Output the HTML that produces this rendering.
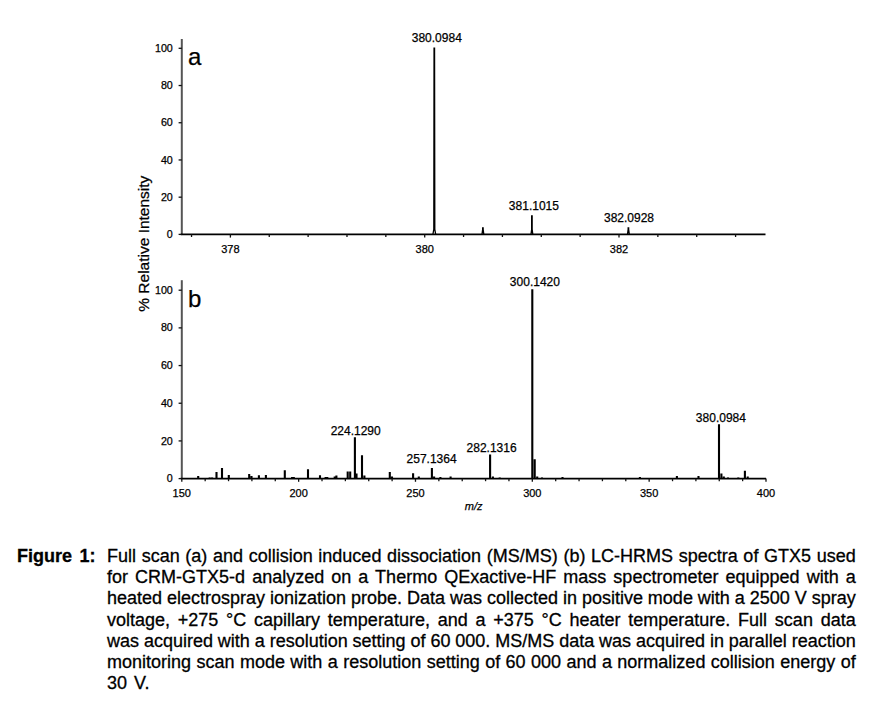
<!DOCTYPE html>
<html><head><meta charset="utf-8">
<style>
html,body{margin:0;padding:0;background:#fff;}
body{width:881px;height:709px;position:relative;overflow:hidden;font-family:"Liberation Sans", sans-serif;color:#000;}
svg{position:absolute;left:0;top:0;}
svg text{font-family:"Liberation Sans", sans-serif;fill:#000;stroke:#000;stroke-width:0.25px;}
.fig{position:absolute;left:17.0px;top:546.2px;font-size:18px;font-weight:bold;line-height:21.12px;word-spacing:2.5px;-webkit-text-stroke:0.3px #000;}
.ln{position:absolute;left:107.0px;font-size:18px;line-height:21.12px;white-space:nowrap;-webkit-text-stroke:0.3px #000;}
.ln.last{text-align:left;text-align-last:left;}
</style></head><body>
<svg width="881" height="709" viewBox="0 0 881 709">
<path d="M181.8 39 V234.4" fill="none" stroke="#555" stroke-width="2"/>
<path d="M180.8 234.4 H765.5" fill="none" stroke="#000" stroke-width="1.7"/>
<path d="M178.6 234.4 H181.8" stroke="#111" stroke-width="1.3"/>
<text x="172.8" y="238" text-anchor="end" font-size="10.7">0</text>
<path d="M178.6 197.18 H181.8" stroke="#111" stroke-width="1.3"/>
<text x="172.8" y="200.78" text-anchor="end" font-size="10.7">20</text>
<path d="M178.6 159.96 H181.8" stroke="#111" stroke-width="1.3"/>
<text x="172.8" y="163.56" text-anchor="end" font-size="10.7">40</text>
<path d="M178.6 122.74 H181.8" stroke="#111" stroke-width="1.3"/>
<text x="172.8" y="126.34" text-anchor="end" font-size="10.7">60</text>
<path d="M178.6 85.52 H181.8" stroke="#111" stroke-width="1.3"/>
<text x="172.8" y="89.12" text-anchor="end" font-size="10.7">80</text>
<path d="M178.6 48.3 H181.8" stroke="#111" stroke-width="1.3"/>
<text x="172.8" y="51.9" text-anchor="end" font-size="10.7">100</text>
<path d="M191.54 234.4 V237" stroke="#111" stroke-width="1.3"/>
<path d="M230.4 234.4 V237.6" stroke="#111" stroke-width="1.3"/>
<text x="230.4" y="252.8" text-anchor="middle" font-size="11">378</text>
<path d="M269.26 234.4 V237" stroke="#111" stroke-width="1.3"/>
<path d="M308.12 234.4 V237" stroke="#111" stroke-width="1.3"/>
<path d="M346.98 234.4 V237" stroke="#111" stroke-width="1.3"/>
<path d="M385.84 234.4 V237" stroke="#111" stroke-width="1.3"/>
<path d="M424.7 234.4 V237.6" stroke="#111" stroke-width="1.3"/>
<text x="424.7" y="252.8" text-anchor="middle" font-size="11">380</text>
<path d="M463.56 234.4 V237" stroke="#111" stroke-width="1.3"/>
<path d="M502.42 234.4 V237" stroke="#111" stroke-width="1.3"/>
<path d="M541.28 234.4 V237" stroke="#111" stroke-width="1.3"/>
<path d="M580.14 234.4 V237" stroke="#111" stroke-width="1.3"/>
<path d="M619 234.4 V237.6" stroke="#111" stroke-width="1.3"/>
<text x="619" y="252.8" text-anchor="middle" font-size="11">382</text>
<path d="M657.86 234.4 V237" stroke="#111" stroke-width="1.3"/>
<path d="M696.72 234.4 V237" stroke="#111" stroke-width="1.3"/>
<path d="M735.58 234.4 V237" stroke="#111" stroke-width="1.3"/>
<path d="M432.9 234.4 L433.8 229.4 L434.05 48.2 L434.55 48.2 L434.8 229.4 L435.7 234.4 M482 234.4 L482.65 229.4 L482.65 227.8 L483.15 227.8 L483.15 229.4 L483.8 234.4 M531 234.4 L531.65 229.4 L531.65 215.9 L532.15 215.9 L532.15 229.4 L532.8 234.4 M627.5 234.4 L628.15 229.4 L628.15 228 L628.65 228 L628.65 229.4 L629.3 234.4" fill="none" stroke="#000" stroke-width="1.3" stroke-linejoin="miter"/>
<text x="436.8" y="42.1" text-anchor="middle" font-size="12">380.0984</text>
<text x="533.9" y="210.0" text-anchor="middle" font-size="12">381.1015</text>
<text x="629.0" y="222.0" text-anchor="middle" font-size="12">382.0928</text>
<text x="188" y="65" font-size="24">a</text>
<path d="M181.8 280.2 V478.6" fill="none" stroke="#555" stroke-width="2"/>
<path d="M180.8 478.6 H766" fill="none" stroke="#000" stroke-width="1.7"/>
<path d="M178.6 478.6 H181.8" stroke="#111" stroke-width="1.3"/>
<text x="172.8" y="482.2" text-anchor="end" font-size="10.7">0</text>
<path d="M178.6 440.92 H181.8" stroke="#111" stroke-width="1.3"/>
<text x="172.8" y="444.52" text-anchor="end" font-size="10.7">20</text>
<path d="M178.6 403.24 H181.8" stroke="#111" stroke-width="1.3"/>
<text x="172.8" y="406.84" text-anchor="end" font-size="10.7">40</text>
<path d="M178.6 365.56 H181.8" stroke="#111" stroke-width="1.3"/>
<text x="172.8" y="369.16" text-anchor="end" font-size="10.7">60</text>
<path d="M178.6 327.88 H181.8" stroke="#111" stroke-width="1.3"/>
<text x="172.8" y="331.48" text-anchor="end" font-size="10.7">80</text>
<path d="M178.6 290.2 H181.8" stroke="#111" stroke-width="1.3"/>
<text x="172.8" y="293.8" text-anchor="end" font-size="10.7">100</text>
<path d="M181.8 478.6 V481.8" stroke="#111" stroke-width="1.3"/>
<text x="181.8" y="497" text-anchor="middle" font-size="11">150</text>
<path d="M205.17 478.6 V481.2" stroke="#111" stroke-width="1.3"/>
<path d="M228.54 478.6 V481.2" stroke="#111" stroke-width="1.3"/>
<path d="M251.9 478.6 V481.2" stroke="#111" stroke-width="1.3"/>
<path d="M275.27 478.6 V481.2" stroke="#111" stroke-width="1.3"/>
<path d="M298.64 478.6 V481.8" stroke="#111" stroke-width="1.3"/>
<text x="298.64" y="497" text-anchor="middle" font-size="11">200</text>
<path d="M322.01 478.6 V481.2" stroke="#111" stroke-width="1.3"/>
<path d="M345.38 478.6 V481.2" stroke="#111" stroke-width="1.3"/>
<path d="M368.74 478.6 V481.2" stroke="#111" stroke-width="1.3"/>
<path d="M392.11 478.6 V481.2" stroke="#111" stroke-width="1.3"/>
<path d="M415.48 478.6 V481.8" stroke="#111" stroke-width="1.3"/>
<text x="415.48" y="497" text-anchor="middle" font-size="11">250</text>
<path d="M438.85 478.6 V481.2" stroke="#111" stroke-width="1.3"/>
<path d="M462.22 478.6 V481.2" stroke="#111" stroke-width="1.3"/>
<path d="M485.58 478.6 V481.2" stroke="#111" stroke-width="1.3"/>
<path d="M508.95 478.6 V481.2" stroke="#111" stroke-width="1.3"/>
<path d="M532.32 478.6 V481.8" stroke="#111" stroke-width="1.3"/>
<text x="532.32" y="497" text-anchor="middle" font-size="11">300</text>
<path d="M555.69 478.6 V481.2" stroke="#111" stroke-width="1.3"/>
<path d="M579.06 478.6 V481.2" stroke="#111" stroke-width="1.3"/>
<path d="M602.42 478.6 V481.2" stroke="#111" stroke-width="1.3"/>
<path d="M625.79 478.6 V481.2" stroke="#111" stroke-width="1.3"/>
<path d="M649.16 478.6 V481.8" stroke="#111" stroke-width="1.3"/>
<text x="649.16" y="497" text-anchor="middle" font-size="11">350</text>
<path d="M672.53 478.6 V481.2" stroke="#111" stroke-width="1.3"/>
<path d="M695.9 478.6 V481.2" stroke="#111" stroke-width="1.3"/>
<path d="M719.26 478.6 V481.2" stroke="#111" stroke-width="1.3"/>
<path d="M742.63 478.6 V481.2" stroke="#111" stroke-width="1.3"/>
<path d="M766 478.6 V481.8" stroke="#111" stroke-width="1.3"/>
<text x="766" y="497" text-anchor="middle" font-size="11">400</text>
<path d="M198.2 478.6 V476 M209.7 478.6 V477.6 M212.1 478.6 V477.6 M216.5 478.6 V472 M222 478.6 V468 M228.8 478.6 V474.9 M249.2 478.6 V474 M251.5 478.6 V476.1 M258.9 478.6 V475.2 M265.9 478.6 V474.9 M284.8 478.6 V470.3 M292.1 478.6 V477.1 M293.8 478.6 V477.1 M308 478.6 V469.2 M320 478.6 V475.2 M325.6 478.6 V477.1 M327.3 478.6 V477.1 M334.7 478.6 V476.6 M336.4 478.6 V475.6 M347.7 478.6 V471.6 M350.2 478.6 V471.6 M354.9 478.6 V437.2 M356.5 478.6 V473.6 M362 478.6 V455.2 M364.4 478.6 V475.6 M389.8 478.6 V472.1 M392 478.6 V476.6 M413.1 478.6 V473.3 M418.8 478.6 V476.6 M431.9 478.6 V468.1 M434.1 478.6 V476.6 M440.4 478.6 V477.1 M450.6 478.6 V476.6 M490.1 478.6 V454.4 M492.9 478.6 V476.6 M499.7 478.6 V477.6 M532.3 478.6 V289.3 M534.7 478.6 V459.3 M537.2 478.6 V476.6 M542 478.6 V477.6 M562.5 478.6 V477.1 M639.9 478.6 V477.1 M676.9 478.6 V476.1 M698.5 478.6 V476.1 M719 478.6 V424.3 M721.4 478.6 V473.6 M723.8 478.6 V476.6 M728 478.6 V477.6 M738.3 478.6 V477.6 M744.9 478.6 V470.8 M747.7 478.6 V476.6" stroke="#000" stroke-width="2.1" fill="none"/>
<text x="355.7" y="434.9" text-anchor="middle" font-size="12">224.1290</text>
<text x="431.6" y="462.7" text-anchor="middle" font-size="12">257.1364</text>
<text x="491.6" y="451.6" text-anchor="middle" font-size="12">282.1316</text>
<text x="534.9" y="285.9" text-anchor="middle" font-size="12">300.1420</text>
<text x="720.9" y="421.9" text-anchor="middle" font-size="12">380.0984</text>
<text x="188" y="307" font-size="24">b</text>
<text x="473.7" y="509.8" text-anchor="middle" font-size="11" font-style="italic">m/z</text>
<text transform="translate(148.6 243.7) rotate(-90)" text-anchor="middle" font-size="15.5">% Relative Intensity</text>
</svg>
<div class="fig">Figure 1:</div>
<div class="ln" style="top:546.2px;word-spacing:0.65px">Full scan (a) and collision induced dissociation (MS/MS) (b) LC-HRMS spectra of GTX5 used</div>
<div class="ln" style="top:567.32px;word-spacing:2.07px">for CRM-GTX5-d analyzed on a Thermo QExactive-HF mass spectrometer equipped with a</div>
<div class="ln" style="top:588.44px;word-spacing:-0.05px">heated electrospray ionization probe. Data was collected in positive mode with a 2500 V spray</div>
<div class="ln" style="top:609.56px;word-spacing:2.76px">voltage, +275 °C capillary temperature, and a +375 °C heater temperature. Full scan data</div>
<div class="ln" style="top:630.68px;word-spacing:-0.11px">was acquired with a resolution setting of 60 000. MS/MS data was acquired in parallel reaction</div>
<div class="ln" style="top:651.8px;word-spacing:0.42px">monitoring scan mode with a resolution setting of 60 000 and a normalized collision energy of</div>
<div class="ln last" style="top:672.92px;word-spacing:2px">30 V.</div>
</body></html>
